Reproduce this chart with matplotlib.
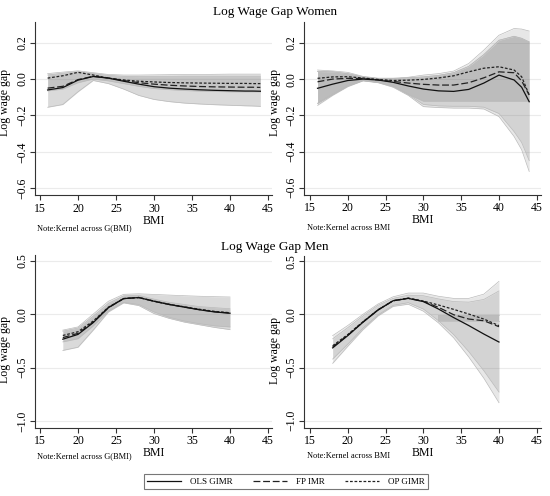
import numpy as np
import matplotlib
matplotlib.use('Agg')
import matplotlib.pyplot as plt
from matplotlib.lines import Line2D

plt.rcParams['font.family'] = ['Liberation Serif', 'DejaVu Serif']

## BMI grids
bmi_w = [16, 18, 20, 22, 24, 26, 28, 30, 32, 34, 36, 38, 40, 42, 43, 44]
bmi_m = [18, 20, 22, 24, 26, 28, 30, 32, 34, 36, 38, 40]

## Women, kernel across G(BMI)
wg_ols = [-0.06, -0.047, -0.006, 0.014, 0.005, -0.012, -0.028, -0.042, -0.05, -0.055, -0.059, -0.062, -0.064, -0.066, -0.066, -0.067]
wg_fp = [-0.05, -0.04, -0.003, 0.015, 0.006, -0.008, -0.02, -0.028, -0.034, -0.038, -0.041, -0.043, -0.044, -0.045, -0.045, -0.046]
wg_op = [0.005, 0.018, 0.037, 0.022, 0.005, -0.005, -0.012, -0.016, -0.019, -0.021, -0.022, -0.023, -0.024, -0.024, -0.025, -0.025]
wg_a_hi = [0.03, 0.038, 0.045, 0.035, 0.025, 0.022, 0.022, 0.023, 0.024, 0.025, 0.025, 0.026, 0.027, 0.027, 0.027, 0.027]
wg_a_lo = [-0.155, -0.14, -0.07, -0.008, -0.025, -0.055, -0.09, -0.112, -0.124, -0.132, -0.137, -0.141, -0.144, -0.147, -0.148, -0.15]
wg_b_hi = [0.022, 0.032, 0.04, 0.03, 0.02, 0.015, 0.013, 0.013, 0.013, 0.013, 0.013, 0.013, 0.013, 0.013, 0.013, 0.013]
wg_b_lo = [-0.065, -0.055, -0.02, 0.0, -0.01, -0.025, -0.04, -0.052, -0.058, -0.063, -0.066, -0.068, -0.07, -0.07, -0.07, -0.07]

## Women, kernel across BMI
wb_ols = [-0.051, -0.028, -0.008, 0.0, -0.005, -0.018, -0.038, -0.055, -0.065, -0.068, -0.057, -0.022, 0.022, -0.005, -0.045, -0.125]
wb_fp = [-0.015, 0.0, 0.004, 0.003, -0.005, -0.013, -0.022, -0.029, -0.033, -0.033, -0.02, 0.007, 0.04, 0.035, -0.01, -0.088]
wb_op = [0.004, 0.012, 0.013, 0.006, -0.002, -0.008, -0.006, -0.002, 0.006, 0.018, 0.04, 0.06, 0.068, 0.05, 0.013, -0.088]
wb_a_hi = [0.05, 0.045, 0.037, 0.015, 0.005, 0.005, 0.01, 0.022, 0.03, 0.044, 0.086, 0.16, 0.242, 0.279, 0.276, 0.265]
wb_a_lo = [-0.145, -0.09, -0.042, -0.01, -0.02, -0.045, -0.09, -0.152, -0.157, -0.16, -0.16, -0.165, -0.207, -0.317, -0.39, -0.51]
wb_b_hi = [0.042, 0.04, 0.03, 0.012, 0.003, 0.002, 0.007, 0.012, 0.02, 0.035, 0.07, 0.135, 0.214, 0.236, 0.225, 0.205]
wb_b_lo = [-0.134, -0.085, -0.038, -0.008, -0.018, -0.04, -0.085, -0.14, -0.148, -0.15, -0.15, -0.155, -0.19, -0.29, -0.35, -0.45]
wb_c_hi = wb_b_hi
wb_c_lo = [-0.134, -0.085, -0.038, -0.008, -0.018, -0.04, -0.085, -0.122, -0.122, -0.122, -0.122, -0.122, -0.122, -0.122, -0.122, -0.122]

## Men, kernel across G(BMI)
mg_ols = [-0.235, -0.19, -0.08, 0.06, 0.145, 0.155, 0.12, 0.09, 0.065, 0.04, 0.02, 0.008]
mg_fp = [-0.22, -0.18, -0.075, 0.06, 0.145, 0.155, 0.12, 0.09, 0.066, 0.042, 0.022, 0.01]
mg_op = [-0.2, -0.165, -0.065, 0.065, 0.145, 0.155, 0.122, 0.092, 0.068, 0.045, 0.025, 0.013]
mg_a_hi = [-0.15, -0.12, 0.0, 0.12, 0.185, 0.19, 0.184, 0.178, 0.172, 0.167, 0.163, 0.16]
mg_a_lo = [-0.34, -0.31, -0.15, 0.02, 0.105, 0.08, 0.005, -0.04, -0.075, -0.1, -0.125, -0.145]
mg_b_hi = [-0.16, -0.13, -0.02, 0.1, 0.17, 0.175, 0.14, 0.11, 0.09, 0.07, 0.06, 0.05]
mg_b_lo = [-0.26, -0.23, -0.11, 0.03, 0.11, 0.09, 0.02, -0.03, -0.065, -0.09, -0.11, -0.12]

## Men, kernel across BMI
mb_ols = [-0.315, -0.2, -0.075, 0.04, 0.128, 0.15, 0.12, 0.05, -0.03, -0.105, -0.185, -0.26]
mb_fp = [-0.305, -0.195, -0.072, 0.042, 0.128, 0.152, 0.122, 0.066, -0.003, -0.044, -0.06, -0.116]
mb_op = [-0.295, -0.19, -0.07, 0.043, 0.128, 0.152, 0.125, 0.088, 0.047, 0.003, -0.044, -0.106]
mb_a_hi = [-0.2, -0.105, 0.0, 0.097, 0.165, 0.2, 0.2, 0.17, 0.15, 0.15, 0.19, 0.31]
mb_a_lo = [-0.46, -0.3, -0.145, -0.015, 0.075, 0.095, 0.03, -0.08, -0.22, -0.4, -0.6, -0.83]
mb_b_hi = [-0.23, -0.125, -0.015, 0.085, 0.15, 0.18, 0.175, 0.145, 0.12, 0.115, 0.14, 0.22]
mb_b_lo = [-0.42, -0.28, -0.13, -0.005, 0.085, 0.11, 0.05, -0.06, -0.19, -0.35, -0.53, -0.73]
mb_c_hi = [np.nan] * 7 + [-0.005, -0.005, -0.005, -0.005, -0.005]
mb_c_lo = [np.nan] * 7 + [-0.06, -0.06, -0.06, -0.06, -0.06]

W, H = 550, 496
fig = plt.figure(figsize=(W / 100, H / 100), dpi=100)


def px_axes(l, t, w, h):
    return fig.add_axes([l / W, 1 - (t + h) / H, w / W, h / H])


def draw_panel(ax, x, bands, alphas, ols, fp, op, ylim, yticks, ylab_y, note_y, note):
    for (hi, lo), a in zip(bands, alphas):
        ax.fill_between(x, lo, hi, color='#6e6e6e', alpha=a, lw=0)
        ax.plot(x, hi, color='#bababa', lw=0.5)
        ax.plot(x, lo, color='#bababa', lw=0.5)
    ax.plot(x, op, color='#222222', lw=0.9, dashes=(2.2, 1.4))
    ax.plot(x, fp, color='#222222', lw=0.9, dashes=(5.5, 2.2))
    ax.plot(x, ols, color='#111111', lw=0.9)
    ax.set_ylim(ylim)
    ax.set_yticks(yticks)
    ax.set_yticklabels(['%.1f' % v if v >= 0 else '\u2212%.1f' % -v for v in yticks],
                       rotation=90, va='center')
    ax.set_xticks([15, 20, 25, 30, 35, 40, 45])
    ax.grid(axis='y', color='#ebebeb', lw=0.8)
    ax.set_axisbelow(True)
    for s in ['top', 'right']:
        ax.spines[s].set_visible(False)
    for s in ['left', 'bottom']:
        ax.spines[s].set_color('#333333')
        ax.spines[s].set_linewidth(0.8)
    ax.tick_params(direction='out', length=3.5, width=0.8, color='#333333',
                   labelsize=8.5, pad=2)
    ax.tick_params(axis='y', pad=1.2)
    ax.set_xlabel('BMI', fontsize=8.5, labelpad=0)
    ax.set_ylabel('Log wage gap', fontsize=8.5)
    ax.yaxis.set_label_coords(-0.1, ylab_y)
    ax.text(0.01, note_y, note, transform=ax.transAxes, fontsize=6, va='center')


ax1 = px_axes(35, 21.7, 237, 173.3)
ax1.set_xlim(14.34, 45.53)
draw_panel(ax1, bmi_w, [(wg_a_hi, wg_a_lo), (wg_b_hi, wg_b_lo)], [0.25, 0.2],
           wg_ols, wg_fp, wg_op, (-0.637, 0.315), [-0.6, -0.4, -0.2, 0.0, 0.2], 0.534, -0.19,
           'Note:Kernel across G(BMI)')

ax2 = px_axes(304.3, 22, 237, 172.5)
ax2.set_xlim(14.25, 45.6)
draw_panel(ax2, bmi_w, [(wb_a_hi, wb_a_lo), (wb_b_hi, wb_b_lo), (wb_c_hi, wb_c_lo)], [0.16, 0.16, 0.22],
           wb_ols, wb_fp, wb_op, (-0.637, 0.315), [-0.6, -0.4, -0.2, 0.0, 0.2], 0.534, -0.195,
           'Note:Kernel across BMI')

ax3 = px_axes(35, 255, 237, 172.7)
ax3.set_xlim(14.34, 45.53)
draw_panel(ax3, bmi_m, [(mg_a_hi, mg_a_lo), (mg_b_hi, mg_b_lo)], [0.25, 0.2],
           mg_ols, mg_fp, mg_op, (-1.063, 0.553), [-1.0, -0.5, 0.0, 0.5], 0.45, -0.165,
           'Note:Kernel across G(BMI)')

ax4 = px_axes(304.3, 255.5, 237, 172)
ax4.set_xlim(14.25, 45.6)
draw_panel(ax4, bmi_m, [(mb_a_hi, mb_a_lo), (mb_b_hi, mb_b_lo), (mb_c_hi, mb_c_lo)], [0.16, 0.16, 0.22],
           mb_ols, mb_fp, mb_op, (-1.063, 0.553), [-1.0, -0.5, 0.0, 0.5], 0.45, -0.165,
           'Note:Kernel across BMI')

fig.text(275 / W, 1 - 12 / H, 'Log Wage Gap Women', ha='center', va='center', fontsize=9.5)
fig.text(275 / W, 1 - 247 / H, 'Log Wage Gap Men', ha='center', va='center', fontsize=9.5)

handles = [Line2D([], [], color='#111111', lw=0.9),
           Line2D([], [], color='#222222', lw=0.9, dashes=(5.5, 2.2)),
           Line2D([], [], color='#222222', lw=0.9, dashes=(2.2, 1.4))]
leg = fig.legend(handles, ['OLS GIMR', 'FP IMR', 'OP GIMR'], ncol=3, loc='center',
                 bbox_to_anchor=(286 / W, 1 - 481.5 / H), fontsize=6.5, frameon=True,
                 fancybox=False, edgecolor='#555555', handlelength=3.8, columnspacing=2.2,
                 handletextpad=1.0, borderpad=0.35)
leg.get_frame().set_linewidth(0.8)

fig.savefig('out.png', dpi=100)
